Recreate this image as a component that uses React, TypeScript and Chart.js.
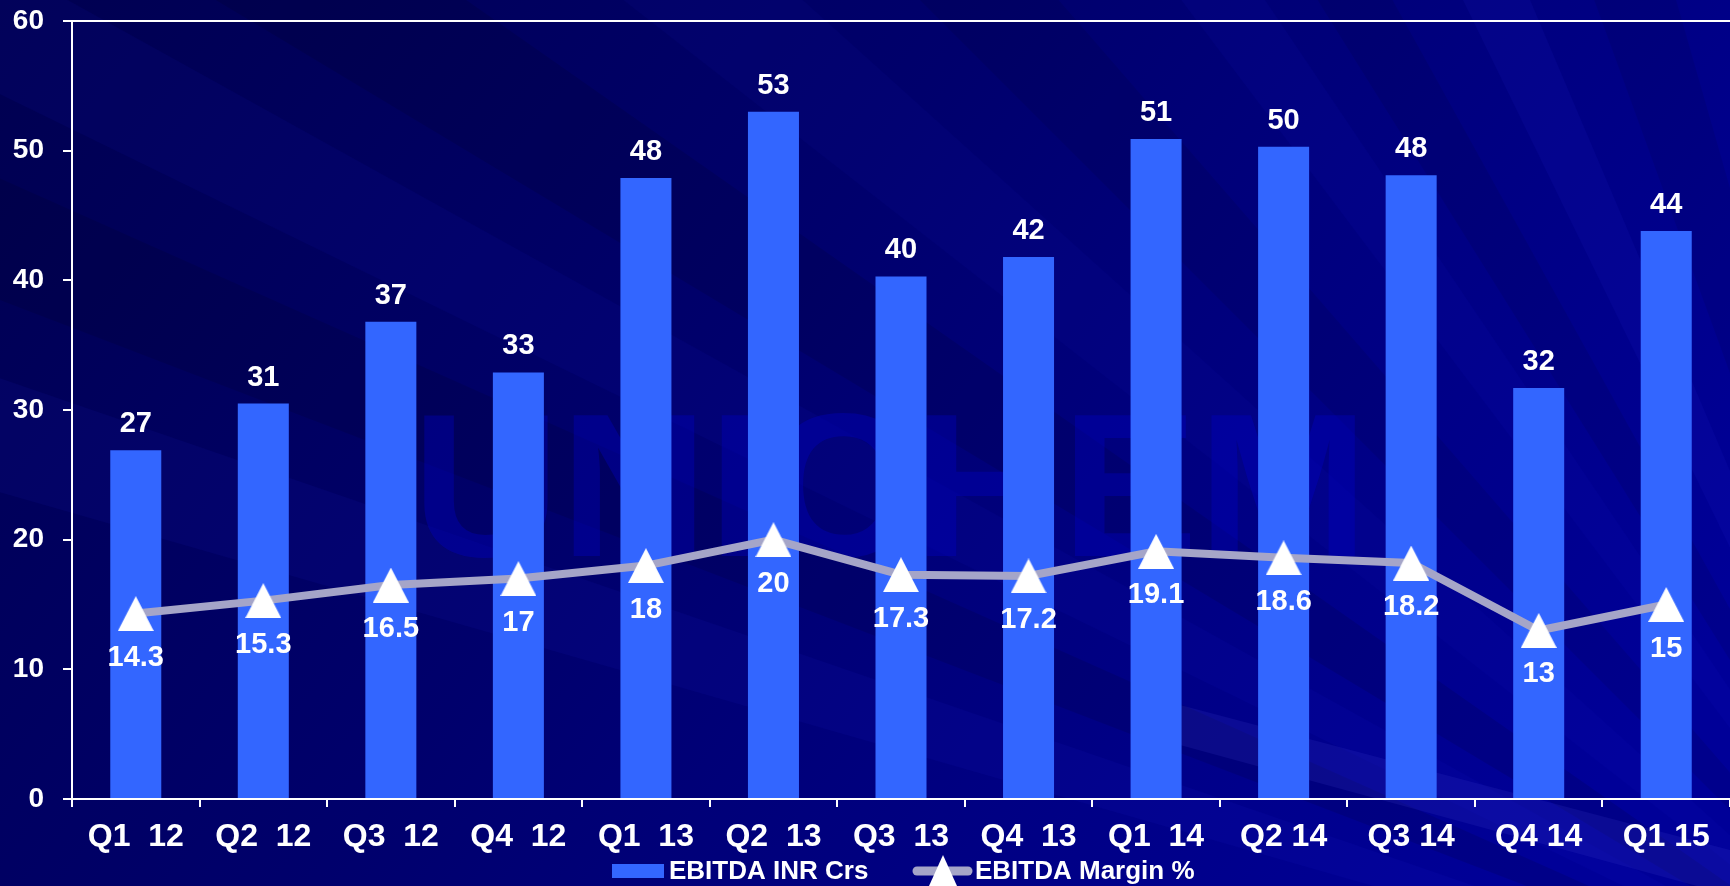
import React, { useEffect, useRef } from "react";
import { Chart, registerables } from "chart.js";

Chart.register(...registerables);

// ---- data ----
const categories = [
  "Q1  12", "Q2  12", "Q3  12", "Q4  12",
  "Q1  13", "Q2  13", "Q3  13", "Q4  13",
  "Q1  14", "Q2 14", "Q3 14", "Q4 14", "Q1 15",
];
const ebitdaValues = [26.9, 30.5, 36.8, 32.9, 47.9, 53.0, 40.3, 41.8, 50.9, 50.3, 48.1, 31.7, 43.8];
const marginValues = [14.3, 15.3, 16.5, 17, 18, 20, 17.3, 17.2, 19.1, 18.6, 18.2, 13, 15];
const yTickValues = [0, 10, 20, 30, 40, 50, 60];
const seriesNames = ["EBITDA INR Crs", "EBITDA Margin %"];

// ---- styles ----
const FONT = '"Liberation Sans", Arial, Helvetica, sans-serif';
const BAR_COLOR = "#3366FF";
const LINE_COLOR = "#A5A5C8";
const WIDTH = 1730;
const HEIGHT = 886;

function makeTriangle(w: number, h: number, color: string) {
  const c = document.createElement("canvas");
  c.width = w;
  c.height = h;
  const g = c.getContext("2d")!;
  g.fillStyle = color;
  g.beginPath();
  g.moveTo(w / 2, 0);
  g.lineTo(w, h);
  g.lineTo(0, h);
  g.closePath();
  g.fill();
  return c;
}

const backgroundPlugin = {
  id: "bgPlugin",
  beforeDraw(chart: any) {
    const ctx = chart.ctx as CanvasRenderingContext2D;
    const w = chart.width;
    const h = chart.height;
    ctx.save();
    const grad = ctx.createLinearGradient(0, 0, w * 0.8, h * 1.2);
    grad.addColorStop(0, "#000050");
    grad.addColorStop(0.45, "#00006C");
    grad.addColorStop(1, "#000098");
    ctx.fillStyle = grad;
    ctx.fillRect(0, 0, w, h);
    // subtle streaks radiating from a focus beyond the lower-right corner
    const fx = 1980;
    const fy = 1060;
    const R = 4000;
    const bands: [number, number, string][] = [
      [16, 19, "rgba(40,40,230,0.08)"],
      [21, 24, "rgba(0,0,0,0.10)"],
      [26, 29, "rgba(30,30,220,0.07)"],
      [31, 35, "rgba(0,0,0,0.10)"],
      [38, 42, "rgba(30,30,220,0.06)"],
      [45, 49, "rgba(0,0,0,0.08)"],
      [53, 56, "rgba(30,30,220,0.08)"],
      [58, 61, "rgba(0,0,0,0.08)"],
      [64, 67, "rgba(40,40,230,0.09)"],
      [70, 74, "rgba(0,0,0,0.07)"],
    ];
    for (const [a0, a1, col] of bands) {
      const r0 = (a0 * Math.PI) / 180;
      const r1 = (a1 * Math.PI) / 180;
      ctx.beginPath();
      ctx.moveTo(fx, fy);
      ctx.lineTo(fx - R * Math.cos(r0), fy - R * Math.sin(r0));
      ctx.lineTo(fx - R * Math.cos(r1), fy - R * Math.sin(r1));
      ctx.closePath();
      ctx.fillStyle = col;
      ctx.fill();
    }
    // lighter swoosh near the bottom right
    ctx.beginPath();
    ctx.moveTo(1180, 705);
    ctx.lineTo(1730, 850);
    ctx.lineTo(1730, 895);
    ctx.lineTo(1180, 745);
    ctx.closePath();
    ctx.fillStyle = "rgba(70,70,210,0.16)";
    ctx.fill();
    ctx.restore();
  },
  beforeDatasetsDraw(chart: any) {
    // faint watermark
    const ctx = chart.ctx as CanvasRenderingContext2D;
    ctx.save();
    ctx.font = `bold 205px ${FONT}`;
    ctx.textAlign = "left";
    ctx.textBaseline = "alphabetic";
    ctx.fillStyle = "rgba(0,0,200,0.35)";
    ctx.fillText("UNICHEM", 412, 556);
    ctx.restore();
  },
};

const labelsPlugin = {
  id: "valueLabels",
  afterDatasetsDraw(chart: any) {
    const ctx = chart.ctx as CanvasRenderingContext2D;
    ctx.save();
    ctx.fillStyle = "#FFFFFF";
    ctx.font = `bold 29px ${FONT}`;
    ctx.textAlign = "center";
    ctx.textBaseline = "alphabetic";
    chart.data.datasets.forEach((ds: any, i: number) => {
      const meta = chart.getDatasetMeta(i);
      meta.data.forEach((el: any, j: number) => {
        const v = ds.data[j];
        if (ds.type === "bar") {
          ctx.fillText(String(Math.round(v)), el.x, el.y - 28 + 10);
        } else {
          ctx.fillText(String(v), el.x, el.y + 42 + 10);
        }
      });
    });
    ctx.restore();
  },
  afterDraw(chart: any) {
    const ctx = chart.ctx as CanvasRenderingContext2D;
    ctx.save();
    // bar legend item
    ctx.fillStyle = BAR_COLOR;
    ctx.fillRect(612, 864, 52, 14);
    // line legend item
    ctx.strokeStyle = LINE_COLOR;
    ctx.lineWidth = 9;
    ctx.lineCap = "round";
    ctx.beginPath();
    ctx.moveTo(917, 871);
    ctx.lineTo(968, 871);
    ctx.stroke();
    ctx.fillStyle = "#FFFFFF";
    ctx.beginPath();
    ctx.moveTo(943, 855);
    ctx.lineTo(957, 886);
    ctx.lineTo(929, 886);
    ctx.closePath();
    ctx.fill();
    // texts
    ctx.fillStyle = "#FFFFFF";
    ctx.font = `bold 26px ${FONT}`;
    ctx.textAlign = "left";
    ctx.textBaseline = "alphabetic";
    ctx.fillText(seriesNames[0], 669, 879);
    ctx.fillText(seriesNames[1], 975, 879);
    ctx.restore();
  },
};

export default function App() {
  const ref = useRef<HTMLCanvasElement | null>(null);

  useEffect(() => {
    document.body.style.margin = "0";
    document.body.style.background = "#000070";
    const canvas = ref.current!;
    const tri = makeTriangle(36, 35, "#FFFFFF");
    const chart = new Chart(canvas, {
      type: "bar",
      data: {
        labels: categories,
        datasets: [
          {
            type: "line",
            label: seriesNames[1],
            data: marginValues,
            borderColor: LINE_COLOR,
            borderWidth: 8,
            pointStyle: tri as any,
            pointRadius: 1,
            pointHoverRadius: 1,
            pointBorderWidth: 0,
            backgroundColor: "#FFFFFF",
            tension: 0,
            clip: false,
            order: 0,
          } as any,
          {
            type: "bar",
            label: seriesNames[0],
            data: ebitdaValues,
            backgroundColor: BAR_COLOR,
            borderWidth: 0,
            barPercentage: 0.4,
            categoryPercentage: 1,
            order: 1,
          } as any,
        ],
      },
      options: {
        responsive: false,
        animation: false,
        events: [],
        layout: { padding: { top: 21, right: 0, left: 0, bottom: 0 } },
        plugins: {
          legend: { display: false },
          tooltip: { enabled: false },
          title: { display: false },
        },
        scales: {
          x: {
            offset: true,
            grid: {
              offset: true,
              drawOnChartArea: false,
              tickLength: 8,
              tickColor: "#FFFFFF",
              lineWidth: 2,
            },
            border: { color: "#FFFFFF", width: 2 },
            ticks: {
              color: "#FFFFFF",
              font: { family: FONT, size: 32, weight: "bold" },
              padding: 11,
              autoSkip: false,
              maxRotation: 0,
              minRotation: 0,
            },
            afterFit(scale: any) {
              scale.height = 87;
              scale.paddingLeft = 0;
              scale.paddingRight = 0;
            },
          },
          y: {
            min: 0,
            max: 60,
            grid: {
              color: (c: any) => (c.tick && c.tick.value === 60 ? "#FFFFFF" : "rgba(0,0,0,0)"),
              tickColor: "#FFFFFF",
              tickLength: 9,
              lineWidth: 2,
            },
            border: { color: "#FFFFFF", width: 2 },
            ticks: {
              color: "#FFFFFF",
              font: { family: FONT, size: 28, weight: "bold" },
              padding: 19,
              stepSize: 10,
            },
            afterBuildTicks(scale: any) {
              scale.ticks = yTickValues.map((v) => ({ value: v }));
            },
            afterFit(scale: any) {
              scale.width = 72;
              scale.paddingTop = 0;
              scale.paddingBottom = 0;
            },
          },
        },
      } as any,
      plugins: [backgroundPlugin, labelsPlugin],
    });
    // the line's stroke width would otherwise reserve extra layout padding
    const lineMeta: any = chart.getDatasetMeta(0);
    if (lineMeta && lineMeta.controller) {
      lineMeta.controller.getMaxOverflow = () => 0;
      chart.update();
    }
    return () => chart.destroy();
  }, []);

  return (
    <div style={{ width: WIDTH, height: HEIGHT }}>
      <canvas ref={ref} width={WIDTH} height={HEIGHT} style={{ display: "block" }} />
    </div>
  );
}
